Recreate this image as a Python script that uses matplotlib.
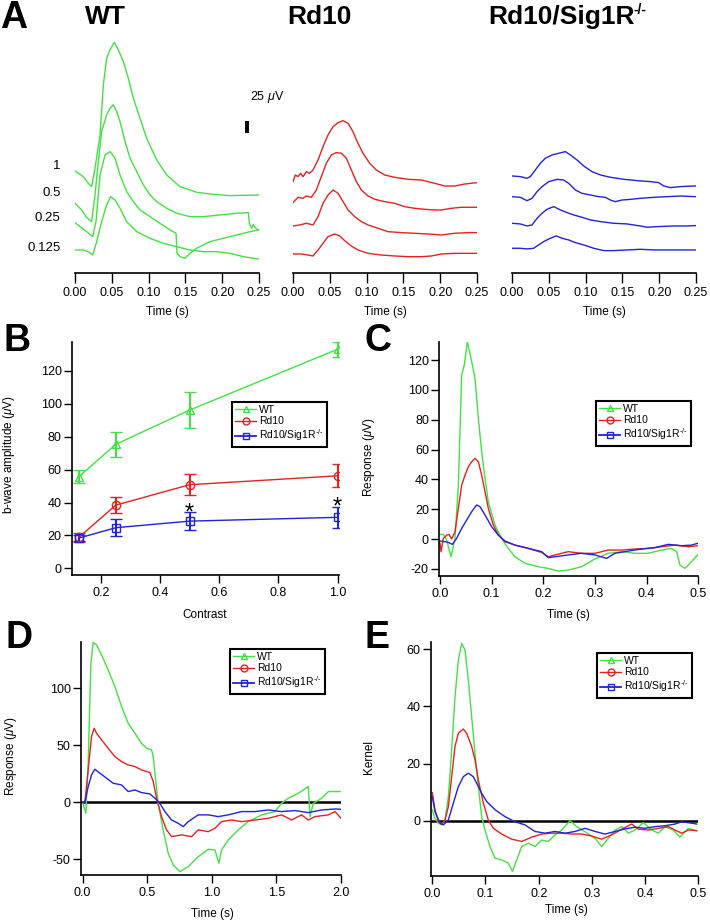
import matplotlib
matplotlib.use("Agg")
import matplotlib.pyplot as plt
from matplotlib.lines import Line2D
from matplotlib.ticker import FormatStrFormatter, MultipleLocator

plt.rcParams['font.family'] = ['Liberation Sans', 'DejaVu Sans']
plt.rcParams['mathtext.fontset'] = 'custom'
plt.rcParams['mathtext.rm'] = 'Liberation Sans'
plt.rcParams['mathtext.it'] = 'Liberation Sans:italic'
plt.rcParams['mathtext.bf'] = 'Liberation Sans:bold'
plt.rcParams['axes.unicode_minus'] = False

GREEN = '#45e045'
RED = '#e52222'
BLUE = '#2222d6'

groups = ['WT', 'Rd10', 'Rd10/Sig1R$^{\\text{-/-}}$']
contrast_labels = ['1', '0.5', '0.25', '0.125']

# ---- panel A: ERG traces per contrast (uV, relative to trace start) ----
a_wt_t = [
    [0.0, 0.0113, 0.018, 0.0226, 0.0272, 0.034, 0.0385, 0.043, 0.0476, 0.0534, 0.0589, 0.0657, 0.0725, 0.0793,
     0.0883, 0.0974, 0.111, 0.1246, 0.1427, 0.1653, 0.188, 0.2106, 0.2491],
    [0.0, 0.009, 0.0159, 0.0226, 0.0272, 0.0317, 0.0362, 0.043, 0.0476, 0.0521, 0.0566, 0.0612, 0.068, 0.0748,
     0.0838, 0.0929, 0.102, 0.111, 0.1246, 0.1382, 0.1563, 0.1744, 0.197, 0.2197, 0.2356, 0.2369, 0.2401, 0.2423,
     0.2446, 0.2491],
    [0.0, 0.0068, 0.0159, 0.024, 0.0285, 0.034, 0.0408, 0.0476, 0.0544, 0.0612, 0.0702, 0.0793, 0.0883, 0.102,
     0.1155, 0.1291, 0.1373, 0.1386, 0.1427, 0.1495, 0.1563, 0.1653, 0.1835, 0.2016, 0.2197, 0.2378, 0.2491],
    [0.0, 0.0113, 0.018, 0.024, 0.0294, 0.0362, 0.043, 0.0485, 0.0544, 0.0612, 0.0702, 0.0838, 0.102, 0.12,
     0.1382, 0.1563, 0.1744, 0.1925, 0.2106, 0.2288, 0.2491],
]
a_wt_uv = [
    [0, -12.9, -28, -35.6, 6.1, 81.7, 195, 256, 274.7, 292, 274.7, 248, 210, 165, 119.6, 74.2, 25, -9.1, -35.6,
     -48.4, -53, -56, -54.5],
    [0, -15.1, -32.5, -41.6, 18.9, 94.6, 162.7, 200.6, 215.7, 223.2, 208.1, 185.4, 140, 102.2, 71.9, 41.6, 18.9,
     3.8, -11.4, -22.7, -30.3, -30.3, -26.5, -22.7, -21.2, -45.4, -56.7, -47.7, -55.3, -60.5],
    [0, -9.1, -20.4, -31.8, 2.3, 108.2, 153.6, 161.2, 146.2, 108.2, 70.4, 47.7, 28.8, 13.6, -1.4, -16.6, -24.1,
     -69.5, -77.2, -80.8, -69.5, -58.1, -43.1, -35.4, -27.9, -20.4, -16.6],
    [0, 0, -3.8, -11.4, 18.9, 64.3, 102.2, 121, 113.5, 94.6, 64.3, 41.6, 26.5, 15.1, 7.6, 0, -3.8, -3.8, -7.6,
     -15.1, -20.4],
]
a_rd10_t = [
    [0.0, 0.0032, 0.0068, 0.0104, 0.0136, 0.0181, 0.0226, 0.0272, 0.034, 0.0408, 0.0476, 0.0544, 0.0612, 0.068,
     0.0748, 0.0815, 0.0883, 0.0951, 0.1042, 0.1132, 0.1246, 0.1382, 0.1563, 0.1744, 0.1925, 0.2061, 0.2197,
     0.2333, 0.2491],
    [0.0, 0.0068, 0.0136, 0.0181, 0.0249, 0.0317, 0.0385, 0.0453, 0.0521, 0.0589, 0.0657, 0.0725, 0.0793, 0.0861,
     0.0929, 0.102, 0.111, 0.1246, 0.1382, 0.1518, 0.1653, 0.1789, 0.1925, 0.2016, 0.2152, 0.2288, 0.2491],
    [0.0, 0.0091, 0.0181, 0.0272, 0.034, 0.0408, 0.0476, 0.0544, 0.0612, 0.068, 0.0748, 0.0838, 0.0929, 0.102,
     0.1155, 0.1291, 0.1472, 0.1653, 0.1835, 0.2016, 0.2197, 0.2378, 0.2491],
    [0.0, 0.0113, 0.0204, 0.0272, 0.034, 0.0408, 0.0476, 0.0566, 0.0634, 0.0702, 0.0793, 0.0883, 0.102, 0.12,
     0.1382, 0.1563, 0.1744, 0.188, 0.2016, 0.2197, 0.2378, 0.2491],
]
a_rd10_uv = [
    [0, 15.1, 11.4, 19, 11.4, 22.7, 19, 26.5, 49.2, 79.5, 106, 124.9, 133.9, 138.5, 132.5, 113.5, 87.1, 64.4,
     41.7, 26.5, 15.1, 9.9, 5.4, 3.8, -3.7, -9.8, -9.8, -5.3, -2.3],
    [0, 12.1, 9.9, 15.1, 12.1, 28.7, 59.1, 89.4, 108.3, 113.6, 112.1, 100.8, 74.2, 47.7, 28.7, 15.1, 7.6, 2.3,
     -1.5, -9.1, -12.8, -15.1, -16.6, -16.6, -12.8, -10.5, -10.5],
    [0, 2.3, 6.1, 2.3, 21.2, 51.5, 70.4, 81.7, 74.2, 55.2, 36.3, 21.2, 9.8, 2.3, -5.3, -12.9, -15.1, -16.6,
     -18.2, -20.4, -16.6, -15.1, -15.1],
    [0, 0, -2.3, -4.5, 9.1, 24.2, 39.4, 45.4, 40.9, 30.3, 18.2, 9.1, 1.5, -2.3, -4.5, -6.1, -6.1, -4.5, 0, 1.5,
     1.5, 1.5],
]
a_sig_t = [
    [0.0, 0.0113, 0.0204, 0.0249, 0.0317, 0.0385, 0.0453, 0.0544, 0.0634, 0.0725, 0.0793, 0.0883, 0.0974, 0.1087,
     0.12, 0.1336, 0.1518, 0.1699, 0.188, 0.1993, 0.2061, 0.2152, 0.2288, 0.2491],
    [0.0, 0.0113, 0.0204, 0.0272, 0.034, 0.0408, 0.0498, 0.0612, 0.0702, 0.077, 0.0861, 0.0951, 0.1065, 0.1178,
     0.1268, 0.1336, 0.1404, 0.1495, 0.1608, 0.1744, 0.1925, 0.2106, 0.2288, 0.2491],
    [0.0, 0.0113, 0.0204, 0.0272, 0.034, 0.0408, 0.0476, 0.0566, 0.0657, 0.0748, 0.0838, 0.0951, 0.1065, 0.12,
     0.1382, 0.1563, 0.1744, 0.1835, 0.197, 0.2197, 0.2378, 0.2491],
    [0.0, 0.0113, 0.0204, 0.0294, 0.0362, 0.043, 0.0521, 0.0602, 0.068, 0.077, 0.0861, 0.0974, 0.111, 0.1246,
     0.1382, 0.1563, 0.1744, 0.1925, 0.2106, 0.2288, 0.2491],
]
a_sig_uv = [
    [0, -1.5, -5.3, -1.5, 13.6, 28.7, 40.1, 47.7, 51.4, 55.2, 47.7, 36.3, 22.7, 9.8, 2.3, -3, -7.6, -10.6, -12.9,
     -15.1, -22.7, -26.5, -24.2, -22.7],
    [0, -1.5, -9.1, -3.8, 11.3, 22.7, 34, 39.3, 37.8, 30.3, 15.1, 7.6, 3.8, 0, -1.5, -7.6, -11.3, -7.6, -6.1,
     -3.8, -1.5, 0, 1.5, 0],
    [0, -1.5, -6.1, -3.8, 11.3, 22.7, 31.8, 37.8, 30.3, 24.2, 18.9, 13.6, 7.6, 3.8, 0, -1.5, -6.1, -9.1, -7.6,
     -6.1, -6.1, -5.3],
    [0, 0, -1.5, 0, 7.6, 15.1, 22.7, 28, 22.7, 18.9, 12.9, 7.6, 0, -5.3, -5.3, -3.8, -2.3, -3.8, -3.8, -3.8, -3.8],
]
# vertical stacking of the traces (uV above the time axis)
a_wt_offset = [231.5, 158.2, 114.2, 52.2]
a_rd10_offset = [207.2, 159.6, 106.7, 43.1]
a_sig_offset = [220.2, 173.2, 112.8, 56.1]

# ---- panel B: b-wave amplitude vs contrast ----
contrast = [0.125, 0.25, 0.5, 1.0]
b_wt = [55.6, 75.3, 96.1, 133.0]
b_wt_err = [4.0, 7.6, 11.1, 4.5]
b_rd10 = [18.8, 38.4, 50.8, 56.2]
b_rd10_err = [2.5, 4.9, 6.5, 6.9]
b_sig = [18.4, 24.7, 28.7, 31.0]
b_sig_err = [2.0, 5.0, 5.3, 6.3]
star_contrast = [0.5, 1.0]
star_level = [38.1, 41.5]

# ---- panel C ----
c_wt_t = [0.0, 0.0064, 0.0129, 0.0213, 0.029, 0.0355, 0.0419, 0.047, 0.0529, 0.0613, 0.0677, 0.0742, 0.0806,
          0.0871, 0.0935, 0.1064, 0.1193, 0.1322, 0.1451, 0.1645, 0.1903, 0.2096, 0.229, 0.2483, 0.274, 0.2999,
          0.3257, 0.3515, 0.3773, 0.403, 0.4289, 0.4483, 0.458, 0.4644, 0.4741, 0.4838, 0.4986]
c_wt_v = [3.2, 3.2, -0.6, -11.8, 0.5, 36.2, 110, 116.6, 132.3, 118.9, 107.7, 80.9, 58.6, 40.7, 25.1, 9.4, 0.5,
          -6.2, -11.8, -16.2, -18.5, -19.6, -21.4, -20.7, -18.5, -13.3, -9.5, -8.4, -9.5, -9.5, -7.3, -6.2, -8.4,
          -17.3, -19.6, -16.2, -10.6]
c_rd10_t = [0.0, 0.002, 0.0064, 0.0129, 0.0174, 0.0226, 0.029, 0.0355, 0.0419, 0.0484, 0.0548, 0.0613, 0.0677,
            0.0742, 0.0806, 0.0871, 0.0935, 0.1032, 0.1129, 0.1258, 0.1451, 0.1709, 0.1967, 0.2096, 0.2225, 0.2483,
            0.274, 0.2999, 0.3257, 0.3515, 0.3773, 0.403, 0.4289, 0.4547, 0.4805, 0.4986]
c_rd10_v = [-2.8, -8.4, 0.5, 2.7, 3.2, 0.1, 5, 20.6, 36.2, 42.9, 48.5, 51.9, 54.1, 51.9, 42.9, 31.8, 20.6, 9.4,
            2.7, -1.7, -4, -6.2, -8.9, -11.8, -10.6, -8.4, -9.5, -9.5, -7.3, -7.3, -6.6, -6.2, -5.1, -4, -5.1, -4.4]
c_sig_t = [0.0, 0.0097, 0.0161, 0.0238, 0.0322, 0.0419, 0.0516, 0.0613, 0.0709, 0.0774, 0.0871, 0.1, 0.1129,
           0.1258, 0.1451, 0.1709, 0.1967, 0.2096, 0.2225, 0.2483, 0.274, 0.2999, 0.3225, 0.3386, 0.3644, 0.3902,
           0.416, 0.4418, 0.4676, 0.487, 0.4986]
c_sig_v = [-1.3, -1.7, -2.2, -3.5, 0.5, 7.2, 12.8, 18.4, 22.9, 21.7, 16.2, 8.3, 2.7, -1.3, -4, -6.2, -8.4, -12.4,
           -11.8, -10.6, -9.5, -10.6, -12.9, -9.5, -8, -6.6, -5.7, -3.5, -4.4, -4, -2.8]

# ---- panel D ----
d_wt_t = [0.0, 0.0256, 0.0436, 0.0643, 0.0824, 0.1082, 0.147, 0.198, 0.25, 0.302, 0.353, 0.405, 0.456, 0.495,
          0.534, 0.547, 0.56, 0.585, 0.624, 0.663, 0.702, 0.753, 0.818, 0.895, 0.973, 1.024, 1.055, 1.076, 1.128,
          1.205, 1.282, 1.386, 1.489, 1.54, 1.592, 1.67, 1.747, 1.76, 1.786, 1.85, 1.902, 2.0]
d_wt_v = [0, -9.7, 34.2, 122, 140.3, 138.2, 129.4, 116.3, 101.6, 84, 69.4, 60.6, 51.8, 47.4, 46, 40.1, 25.5,
          -0.9, -24.3, -44.8, -55.1, -61, -56.6, -47.8, -41.3, -41.9, -53.6, -41.9, -33.1, -24.3, -17, -11.1,
          -8.2, -0.9, 3.5, 7.9, 13.8, -12.6, -0.9, 3.5, 9.4, 9.4]
d_rd10_t = [0.0, 0.0178, 0.0436, 0.0694, 0.0901, 0.1082, 0.147, 0.198, 0.25, 0.302, 0.353, 0.405, 0.456, 0.521,
            0.547, 0.573, 0.611, 0.65, 0.689, 0.766, 0.844, 0.895, 0.973, 1.024, 1.076, 1.153, 1.23, 1.334, 1.437,
            1.54, 1.618, 1.695, 1.747, 1.799, 1.902, 1.954, 2.0]
d_rd10_v = [0, 0, 28.4, 57.7, 65, 60.6, 54.8, 47.4, 40.1, 35.7, 32.8, 31.3, 28.4, 26.1, 18.1, 3.5, -12.6, -24.3,
            -30.2, -28.7, -30.2, -24.3, -25.8, -22.9, -17, -15.6, -17, -15.6, -14.1, -11.1, -15.6, -11.1, -15.6,
            -12.6, -11.1, -8.2, -14.1]
d_sig_t = [0.0, 0.0178, 0.0436, 0.0694, 0.095, 0.134, 0.186, 0.237, 0.302, 0.353, 0.405, 0.456, 0.521, 0.56,
           0.598, 0.637, 0.689, 0.74, 0.779, 0.818, 0.895, 0.973, 1.05, 1.128, 1.23, 1.334, 1.437, 1.54, 1.644,
           1.747, 1.85, 1.954, 2.0]
d_sig_v = [0, 0, 13.7, 24, 29, 25.5, 21.1, 16.7, 15.2, 9.4, 10.8, 8.5, 7.3, 3.5, -0.9, -8.2, -15.6, -18.5, -21.4,
           -17, -11.1, -11.1, -12.6, -11.1, -8.2, -8.2, -6.8, -8.2, -7.3, -9.1, -6.8, -5.9, -6.2]

# ---- panel E: kernels ----
e_wt_t = [0.0, 0.005, 0.0114, 0.0176, 0.0239, 0.0302, 0.0364, 0.0427, 0.049, 0.0552, 0.0615, 0.0677, 0.074,
          0.0803, 0.0865, 0.0928, 0.099, 0.1085, 0.118, 0.1304, 0.143, 0.1505, 0.1586, 0.168, 0.1805, 0.193,
          0.2056, 0.218, 0.2307, 0.2432, 0.259, 0.2714, 0.287, 0.306, 0.3184, 0.331, 0.3435, 0.356, 0.3685, 0.381,
          0.3967, 0.4124, 0.425, 0.4374, 0.453, 0.4656, 0.4813, 0.497]
e_wt_v = [3.8, 0.8, -0.9, -1.5, 0.2, 8.4, 24.8, 43.4, 56.3, 62.1, 59.8, 49.3, 36.4, 23.6, 11.9, 1.4, -3.3, -9.1,
          -13.2, -13.8, -14.9, -17.8, -13.8, -9.1, -7.9, -9.1, -6.8, -7.3, -5, -3.3, 0, -2.1, -3.9, -6.2, -9.1,
          -6.2, -3.3, -2.1, -4.4, -3.3, -0.7, -3.3, -4.4, -2.1, -3.3, -5.8, -2.7, -3.6]
e_rd10_t = [0.0, 0.005, 0.0114, 0.0176, 0.0239, 0.0302, 0.0364, 0.0427, 0.049, 0.0583, 0.0646, 0.074, 0.0803,
            0.0865, 0.096, 0.1053, 0.1148, 0.1304, 0.1492, 0.168, 0.1868, 0.2056, 0.2244, 0.2432, 0.262, 0.2808,
            0.2996, 0.3184, 0.3372, 0.356, 0.3748, 0.3873, 0.406, 0.4249, 0.4437, 0.4562, 0.4688, 0.4813, 0.497]
e_rd10_v = [9.8, 3.8, -0.3, -1.2, 0.2, 4.9, 15.4, 26, 30.6, 32.1, 30.6, 26, 21.3, 14.3, 6.1, 0.2, -2.7, -4.7,
            -6.5, -7.3, -5.8, -4.7, -4.4, -4.4, -4.7, -4.7, -5.4, -6.5, -5, -3, -1.2, -3, -3.3, -2.7, -2.1, -3.3,
            -4.4, -3.3, -3.5]
e_sig_t = [0.0, 0.005, 0.0145, 0.0207, 0.0302, 0.0395, 0.049, 0.0583, 0.0677, 0.0771, 0.0834, 0.0928, 0.1022,
           0.118, 0.1367, 0.1555, 0.1743, 0.193, 0.2119, 0.2307, 0.2495, 0.2683, 0.287, 0.306, 0.3246, 0.3435,
           0.3622, 0.381, 0.3998, 0.4186, 0.4374, 0.4562, 0.4688, 0.4876, 0.497]
e_sig_v = [8.4, 3.2, -0.9, -1.5, 0.2, 6.1, 11.9, 15.4, 16.6, 15.4, 13.1, 9.6, 6.7, 3.8, 1.4, -0.4, -1.5, -3.8,
           -4.4, -3.8, -4.4, -3.8, -2.7, -3.8, -4.7, -3.8, -2.9, -2.3, -2.7, -2.1, -1.8, -1.2, -0.4, -0.9, -1.2]

W, H = 710, 924
fig = plt.figure(figsize=(W / 100, H / 100), dpi=100)


def axes_px(left, top, right, bottom):
    return fig.add_axes([left / W, 1 - bottom / H, (right - left) / W, (bottom - top) / H])


def text_px(x, y, s, **kw):
    fig.text(x / W, 1 - y / H, s, **kw)


def style(ax):
    for s in ['top', 'right']:
        ax.spines[s].set_visible(False)
    for s in ['left', 'bottom']:
        ax.spines[s].set_linewidth(1.2)
    ax.tick_params(direction='out', length=6, width=1, labelsize=9, colors='black')
    ax.tick_params(axis='x', pad=3)
    ax.tick_params(axis='y', pad=1.5)


def add_legend(ax, x, y):
    handles = [Line2D([], [], color=GREEN, marker='^', mfc='none', ms=5, lw=1, label=groups[0]),
               Line2D([], [], color=RED, marker='o', mfc='none', ms=5, lw=1, label=groups[1]),
               Line2D([], [], color=BLUE, marker='s', mfc='none', ms=5, lw=1.3, label=groups[2])]
    leg = ax.legend(handles=handles, loc='upper left', bbox_to_anchor=(x, y), borderaxespad=0, fontsize=7.5,
                    frameon=True, fancybox=False, edgecolor='black', framealpha=1, borderpad=0.3,
                    handlelength=2.0, handletextpad=0.3, labelspacing=0.12)
    leg.get_frame().set_linewidth(1.5)


# ---------------- panel A ----------------
a_panels = [(75, 259, a_wt_t, a_wt_uv, a_wt_offset, GREEN),
            (293, 477, a_rd10_t, a_rd10_uv, a_rd10_offset, RED),
            (512, 696, a_sig_t, a_sig_uv, a_sig_offset, BLUE)]
a_axes = []
for left, right, ts, vs, offs, col in a_panels:
    ax = axes_px(left, 35, right, 273)
    style(ax)
    ax.spines['left'].set_visible(False)
    ax.set_yticks([])
    for t, v, off in zip(ts, vs, offs):
        ax.plot(t, [val + off for val in v], color=col, lw=1.0)
    ax.set_xlim(0, 0.25)
    ax.set_ylim(0, 540)
    ax.xaxis.set_major_locator(MultipleLocator(0.05))
    ax.xaxis.set_major_formatter(FormatStrFormatter('%.2f'))
    ax.tick_params(axis='x', length=7)
    ax.patch.set_visible(False)
    text_px((left + right) / 2, 312, 'Time (s)', ha='center', va='center', fontsize=8.5)
    a_axes.append(ax)

# 25 uV scale bar
a_axes[0].plot([0.2337, 0.2337], [318, 345], color='black', lw=2.8, solid_capstyle='butt', clip_on=False)
text_px(250, 97, '25 $\\mu$V', ha='left', va='center', fontsize=9)

for lab, y in zip(contrast_labels, [166, 193, 218, 248]):
    text_px(60.5, y, lab, ha='right', va='center', fontsize=9.5)

text_px(85, 17, 'WT', ha='left', va='center', fontsize=19, fontweight='bold')
text_px(287, 17, 'Rd10', ha='left', va='center', fontsize=19, fontweight='bold')
text_px(488, 17, 'Rd10/Sig1R', ha='left', va='center', fontsize=19, fontweight='bold')
text_px(633, 10, '-/-', ha='left', va='center', fontsize=10, fontweight='bold')

# ---------------- panel B ----------------
axb = axes_px(72, 341.7, 339, 575)
style(axb)
for vals, errs, col, mk in [(b_wt, b_wt_err, GREEN, '^'), (b_rd10, b_rd10_err, RED, 'o'),
                            (b_sig, b_sig_err, BLUE, 's')]:
    axb.errorbar(contrast, vals, yerr=errs, color=col, marker=mk, mfc='none', ms=6, mew=1, lw=1,
                 elinewidth=1.5, capsize=4, capthick=1.5)
for x, y in zip(star_contrast, star_level):
    axb.text(x, y - 8.4, '*', ha='center', va='baseline', fontsize=17, color='black')
axb.set_xlim(0.102, 1.005)
axb.set_ylim(-4, 137.6)
axb.set_xticks([0.2, 0.4, 0.6, 0.8, 1.0])
axb.xaxis.set_major_formatter(FormatStrFormatter('%.1f'))
axb.set_yticks([0, 20, 40, 60, 80, 100, 120])
add_legend(axb, 0.5995, 0.7415)
text_px(205, 615, 'Contrast', ha='center', va='center', fontsize=8.5)
text_px(9, 455, 'b-wave amplitude ($\\mu$V)', ha='center', va='center', rotation=90, fontsize=8.5)

# ---------------- panel C ----------------
axc = axes_px(439.3, 341.7, 698.3, 575.7)
style(axc)
axc.plot(c_wt_t, c_wt_v, color=GREEN, lw=1.0)
axc.plot(c_rd10_t, c_rd10_v, color=RED, lw=1.0)
axc.plot(c_sig_t, c_sig_v, color=BLUE, lw=1.0)
axc.set_xlim(-0.0014, 0.5)
axc.set_ylim(-24.5, 132.3)
axc.set_xticks([0.0, 0.1, 0.2, 0.3, 0.4, 0.5])
axc.xaxis.set_major_formatter(FormatStrFormatter('%.1f'))
axc.set_yticks([-20, 0, 20, 40, 60, 80, 100, 120])
add_legend(axc, 0.605, 0.7466)
text_px(568, 615, 'Time (s)', ha='center', va='center', fontsize=8.5)
text_px(369, 457, 'Response ($\\mu$V)', ha='center', va='center', rotation=90, fontsize=8.5)

# ---------------- panel D ----------------
axd = axes_px(81, 641.7, 341, 875)
style(axd)
axd.plot([0, 2.0], [0, 0], color='black', lw=1.8)
axd.plot(d_wt_t, d_wt_v, color=GREEN, lw=1.0)
axd.plot(d_rd10_t, d_rd10_v, color=RED, lw=1.0)
axd.plot(d_sig_t, d_sig_v, color=BLUE, lw=1.0)
axd.set_xlim(-0.012, 2.0)
axd.set_ylim(-63.9, 141)
axd.set_xticks([0.0, 0.5, 1.0, 1.5, 2.0])
axd.xaxis.set_major_formatter(FormatStrFormatter('%.1f'))
axd.set_yticks([-50, 0, 50, 100])
add_legend(axd, 0.573, 0.9687)
text_px(212, 914, 'Time (s)', ha='center', va='center', fontsize=8.5)
text_px(11, 756, 'Response ($\\mu$V)', ha='center', va='center', rotation=90, fontsize=8.5)

# ---------------- panel E ----------------
axe = axes_px(430.7, 641.7, 698.3, 875.7)
style(axe)
axe.plot([0, 0.5], [0, 0], color='black', lw=1.8)
axe.plot(e_wt_t, e_wt_v, color=GREEN, lw=1.0)
axe.plot(e_rd10_t, e_rd10_v, color=RED, lw=1.0)
axe.plot(e_sig_t, e_sig_v, color=BLUE, lw=1.0)
axe.set_xlim(-0.003, 0.5)
axe.set_ylim(-19.3, 62.7)
axe.set_xticks([0.0, 0.1, 0.2, 0.3, 0.4, 0.5])
axe.xaxis.set_major_formatter(FormatStrFormatter('%.1f'))
axe.set_yticks([0, 20, 40, 60])
add_legend(axe, 0.6215, 0.9517)
text_px(566, 910, 'Time (s)', ha='center', va='center', fontsize=8.5)
text_px(369, 757, 'Kernel', ha='center', va='center', rotation=90, fontsize=8.5)

# panel letters
for lab, x, y in [('A', 14, 18), ('B', 17, 341), ('C', 378, 341), ('D', 19, 638), ('E', 377, 638)]:
    text_px(x, y, lab, ha='center', va='center', fontsize=27, fontweight='bold')

fig.savefig('out.png', dpi=100)
